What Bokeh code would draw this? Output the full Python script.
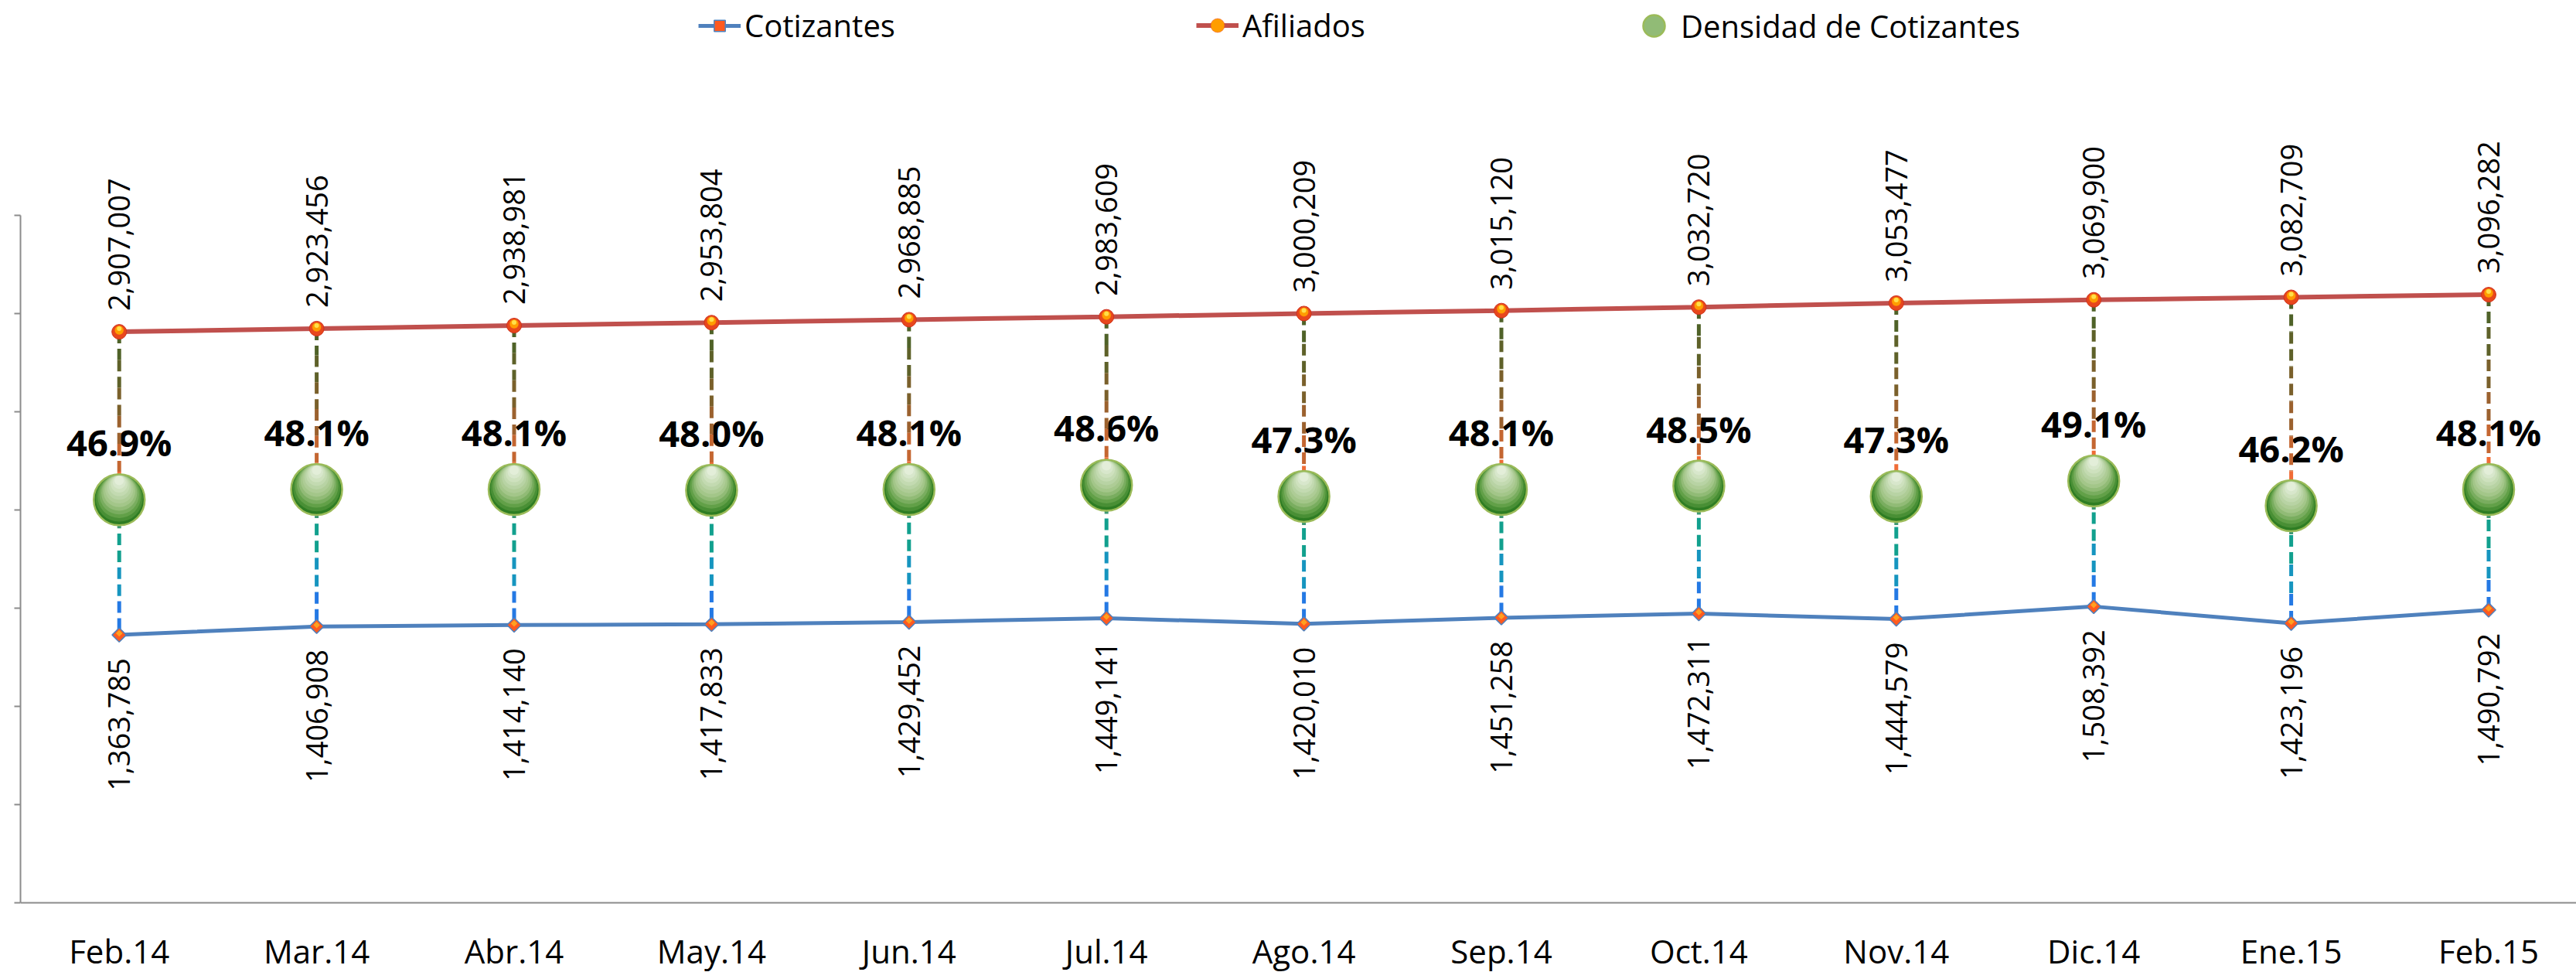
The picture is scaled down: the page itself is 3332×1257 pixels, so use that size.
import math
from bokeh.plotting import figure
from bokeh.models import (ColumnDataSource, Range1d, FixedTicker, Legend, LegendItem, Span)
from bokeh.core.properties import value
from bokeh.embed import file_html
from bokeh.resources import INLINE

# ---------------- data ----------------
months = ["Feb.14", "Mar.14", "Abr.14", "May.14", "Jun.14", "Jul.14", "Ago.14",
          "Sep.14", "Oct.14", "Nov.14", "Dic.14", "Ene.15", "Feb.15"]
afiliados = [2907007, 2923456, 2938981, 2953804, 2968885, 2983609, 3000209,
             3015120, 3032720, 3053477, 3069900, 3082709, 3096282]
cotizantes = [1363785, 1406908, 1414140, 1417833, 1429452, 1449141, 1420010,
              1451258, 1472311, 1444579, 1508392, 1423196, 1490792]
densidad = [0.469, 0.481, 0.481, 0.480, 0.481, 0.486, 0.473,
            0.481, 0.485, 0.473, 0.491, 0.462, 0.481]

# ---------------- layout constants ----------------
W, H = 3332, 1257
BORDER_L = 26
frame_w = W - BORDER_L
frame_h = H
band = 255.4                 # px per category
AX_MAX = 3_500_000           # primary axis max
D_MAX = 0.8                  # secondary axis max
axis_px = 889.0              # pixel height of the 0..AX_MAX span
above0_px = 1167             # frame pixels above the zero line
below0_px = frame_h - above0_px
y_start = -below0_px * AX_MAX / axis_px
y_end = above0_px * AX_MAX / axis_px
d_start = -below0_px * D_MAX / axis_px
d_end = above0_px * D_MAX / axis_px
x_end = -0.5 + frame_w / band
FONT = "Open Sans"

p = figure(width=W, height=H, output_backend="svg", toolbar_location=None,
           x_range=Range1d(-0.5, x_end), y_range=Range1d(y_start, y_end),
           min_border_left=BORDER_L, min_border_right=0, min_border_top=0,
           min_border_bottom=0)
p.outline_line_color = None
p.grid.visible = False
p.background_fill_color = "white"
p.border_fill_color = "white"
p.xaxis.visible = False

p.extra_y_ranges = {"dens": Range1d(d_start, d_end)}
def dens_shift(key, px):
    name = f"dens_up{key}"
    s = px * (d_end - d_start) / frame_h
    p.extra_y_ranges[name] = Range1d(d_start - s, d_end - s)
    return name
def prim_shift(key, px):
    name = f"prim_up{key}"
    s = px * (y_end - y_start) / frame_h
    p.extra_y_ranges[name] = Range1d(y_start - s, y_end - s)
    return name

# ---------------- axes ----------------
yticks = list(range(0, AX_MAX + 1, 500_000))
ya = p.yaxis[0]
ya.ticker = FixedTicker(ticks=yticks)
ya.major_label_overrides = {t: "" for t in yticks}
ya.bounds = (0, AX_MAX)
ya.major_label_standoff = 0
ya.major_tick_out = 8
ya.major_tick_in = 0
ya.minor_tick_out = 0
ya.minor_tick_in = 0
ya.axis_line_color = "#8c8c8c"
ya.axis_line_width = 2
ya.major_tick_line_color = "#8c8c8c"
ya.major_tick_line_width = 2

# category axis line at zero
p.add_layout(Span(location=0, dimension="width", line_color="#8c8c8c", line_width=2))

# ---------------- sources ----------------
xs = list(range(len(months)))
src = ColumnDataSource(dict(
    x=xs, month=months, afi=afiliados, cot=cotizantes, den=densidad,
    afi_lbl=[f"{v:,}" for v in afiliados],
    cot_lbl=[f"{v:,}" for v in cotizantes],
    pct=[f"{d * 100:.1f}%" for d in densidad],
))

# category labels under the zero line
p.text("x", 0, text="month", source=src, y_offset=62,
       text_font=value(FONT), text_font_size="42px", text_align="center",
       text_baseline="middle", text_color="black")

# ---------------- lines ----------------
r_cot_line = p.line("x", "cot", source=src, line_color="#4f81bd", line_width=5)
r_afi_line = p.line("x", "afi", source=src, line_color="#c0504d", line_width=6)

# ---------------- percent labels ----------------
p.text("x", "den", text="pct", source=src, y_range_name="dens", y_offset=-74,
       text_font=value(FONT), text_font_style="bold", text_font_size="47px",
       text_align="center", text_baseline="middle", text_color="black")

# ---------------- drop lines (gradient made of pieces) ----------------
upper_cols = ["#4f6228", "#5e6129", "#7a602b", "#9b612e", "#c46631", "#f06c36"]
lower_cols = ["#3f9873", "#12a08e", "#1695bf", "#2479e4"]
sx0, sy0, sx1, sy1, scol = [], [], [], [], []
for i in xs:
    dc = densidad[i] * AX_MAX / D_MAX       # bubble centre in primary units
    a, c = afiliados[i], cotizantes[i]
    n = len(upper_cols)
    for j, col in enumerate(upper_cols):
        sx0.append(i); sx1.append(i)
        sy0.append(a + (dc - a) * j / n); sy1.append(a + (dc - a) * (j + 1) / n)
        scol.append(col)
    n = len(lower_cols)
    for j, col in enumerate(lower_cols):
        sx0.append(i); sx1.append(i)
        sy0.append(dc + (c - dc) * j / n); sy1.append(dc + (c - dc) * (j + 1) / n)
        scol.append(col)
seg_src = ColumnDataSource(dict(x0=sx0, y0=sy0, x1=sx1, y1=sy1, c=scol))
p.segment("x0", "y0", "x1", "y1", source=seg_src, line_color="c",
          line_width=5, line_dash="15 7")

# ---------------- density bubbles (layered vertical shading) ----------------
def hex2rgb(h):
    return tuple(int(h[k:k + 2], 16) for k in (1, 3, 5))
def mix(c1, c2, t):
    a, b = hex2rgb(c1), hex2rgb(c2)
    return "#%02x%02x%02x" % tuple(round(a[k] + (b[k] - a[k]) * t) for k in range(3))
def shade(t):
    stops = [(0.0, "#2e7d23"), (0.15, "#5a9b40"), (0.42, "#9fc384"), (1.0, "#e3eed9")]
    for (t0, c0), (t1, c1) in zip(stops, stops[1:]):
        if t <= t1:
            return mix(c0, c1, (t - t0) / (t1 - t0))
    return stops[-1][1]

BUB = 66
NL = 12
bubble_rs = []
for k in range(NL):
    t = k / (NL - 1)
    size = BUB - t * (BUB - 12)
    up = (BUB - size) / 2 * 0.92
    rn = "dens" if k == 0 else dens_shift(k, up)
    r = p.scatter("x", "den", source=src, y_range_name=rn, marker="circle",
                  size=size, fill_color=shade(t), line_color=None)
    bubble_rs.append(r)
r_bubble_outline = p.scatter("x", "den", source=src, y_range_name="dens",
                             marker="circle", size=BUB, fill_color=None,
                             line_color="#9bbb59", line_width=2.5)

# ---------------- markers ----------------
r_cot_mk = p.scatter("x", "cot", source=src, marker="square", angle=math.pi / 4,
                     size=13, fill_color="#ff5a1f", line_color="#4f81bd", line_width=1.5)
p.scatter("x", "cot", source=src, y_range_name=prim_shift("c", 2), marker="square",
          angle=math.pi / 4, size=6, fill_color="#ffa020", line_color=None)
r_afi_mk0 = p.scatter("x", "afi", source=src, marker="circle", size=19,
                      fill_color="#e8471c", line_color="#d0321e", line_width=1)
r_afi_mk1 = p.scatter("x", "afi", source=src, y_range_name=prim_shift("a1", 2),
                      marker="circle", size=12, fill_color="#ff9d00",
                      line_color="#e8471c", line_width=0.5)
p.scatter("x", "afi", source=src, y_range_name=prim_shift("a2", 4),
          marker="circle", size=6, fill_color="#ffe04a", line_color=None)

# ---------------- value labels ----------------
p.text("x", "afi", text="afi_lbl", source=src, angle=math.pi / 2, y_offset=-27,
       text_font=value(FONT), text_font_size="38px", text_align="left",
       text_baseline="middle", text_color="black")
p.text("x", "cot", text="cot_lbl", source=src, angle=math.pi / 2, y_offset=30,
       text_font=value(FONT), text_font_size="38px", text_align="right",
       text_baseline="middle", text_color="black")

# ---------------- legends ----------------
def make_legend(label, renderers, loc, gw, gh, standoff):
    leg = Legend(items=[LegendItem(label=label, renderers=renderers)],
                 location=loc, orientation="horizontal",
                 glyph_width=gw, glyph_height=gh, label_standoff=standoff,
                 padding=0, margin=0, spacing=0,
                 border_line_alpha=0, background_fill_alpha=0,
                 label_text_font=FONT, label_text_font_size="40px",
                 label_text_color="black")
    p.add_layout(leg)

make_legend("Cotizantes", [r_cot_line, r_cot_mk], (877, 1197), 55, 36, 5)
make_legend("Afiliados", [r_afi_line, r_afi_mk1], (1521, 1197), 55, 45, 5)
make_legend("Densidad de Cotizantes", [bubble_rs[4], r_bubble_outline], (2078, 1189), 70, 70, 0)

open("out.html", "w").write(file_html(p, INLINE))
